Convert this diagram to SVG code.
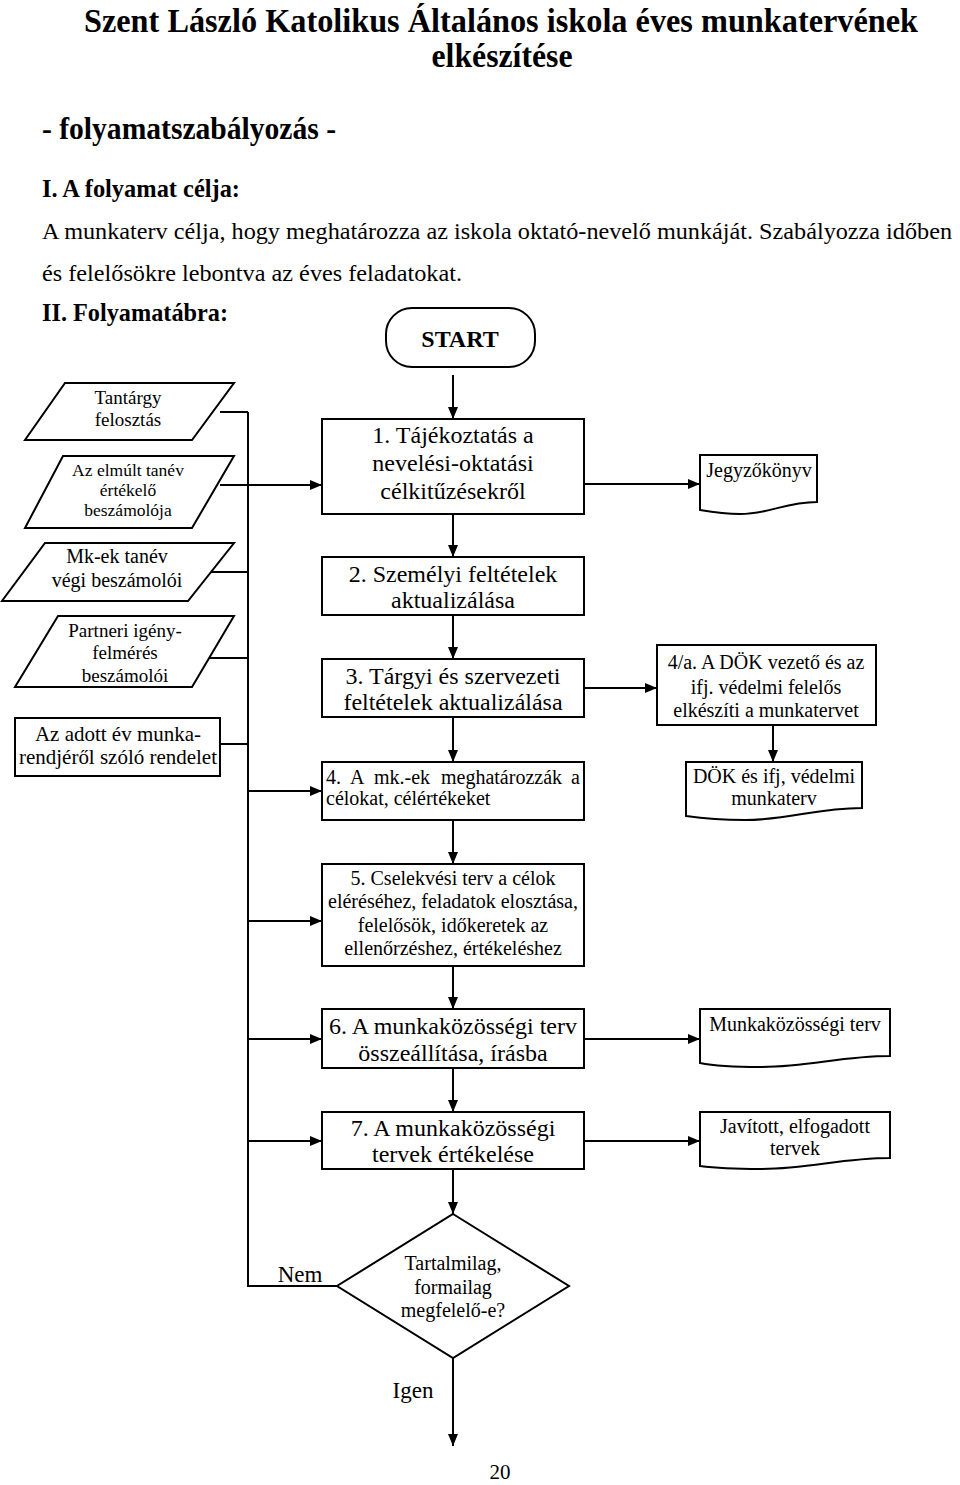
<svg xmlns="http://www.w3.org/2000/svg" width="960" height="1485" viewBox="0 0 960 1485">
<style>
text{font-family:"Times New Roman","Liberation Serif",serif;fill:#000}
.b{font-weight:bold}
.c{text-anchor:middle}
.shape{fill:#fff;stroke:#000;stroke-width:2}
.conn{fill:none;stroke:#000;stroke-width:2}
.t24{font-size:24px}
.t20{font-size:20px}
</style>
<defs>
<marker id="ah" markerUnits="userSpaceOnUse" markerWidth="12" markerHeight="10" refX="12" refY="5" orient="auto">
<path d="M0,0 L12,5 L0,10 z" fill="#000"/>
</marker>
</defs>
<rect width="960" height="1485" fill="#fff"/>

<g id="header">
<text class="b c" x="501" y="32" font-size="34" textLength="834" lengthAdjust="spacingAndGlyphs">Szent László Katolikus Általános iskola éves munkatervének</text>
<text class="b c" x="502" y="67" font-size="34" textLength="141" lengthAdjust="spacingAndGlyphs">elkészítése</text>
<text class="b" x="42" y="139" font-size="31" textLength="294" lengthAdjust="spacingAndGlyphs">- folyamatszabályozás -</text>
<text class="b" x="42" y="197" font-size="25" textLength="198" lengthAdjust="spacingAndGlyphs">I. A folyamat célja:</text>
<text x="42" y="239" font-size="23" textLength="910" lengthAdjust="spacingAndGlyphs">A munkaterv célja, hogy meghatározza az iskola oktató-nevelő munkáját. Szabályozza időben</text>
<text x="42" y="281" font-size="24" textLength="420" lengthAdjust="spacingAndGlyphs">és felelősökre lebontva az éves feladatokat.</text>
<text class="b" x="42" y="321" font-size="25" textLength="186" lengthAdjust="spacingAndGlyphs">II. Folyamatábra:</text>
</g>

<g id="connectors">
<path class="conn" d="M453,375 V419" marker-end="url(#ah)"/>
<path class="conn" d="M453,514 V557" marker-end="url(#ah)"/>
<path class="conn" d="M453,615 V659" marker-end="url(#ah)"/>
<path class="conn" d="M453,717 V762" marker-end="url(#ah)"/>
<path class="conn" d="M453,820 V864" marker-end="url(#ah)"/>
<path class="conn" d="M453,966 V1009" marker-end="url(#ah)"/>
<path class="conn" d="M453,1068 V1112" marker-end="url(#ah)"/>
<path class="conn" d="M453,1169 V1214" marker-end="url(#ah)"/>
<path class="conn" d="M453,1358 V1446" marker-end="url(#ah)"/>
<path class="conn" d="M584,484 H700" marker-end="url(#ah)"/>
<path class="conn" d="M584,688 H657" marker-end="url(#ah)"/>
<path class="conn" d="M773,725 V762" marker-end="url(#ah)"/>
<path class="conn" d="M584,1039 H700" marker-end="url(#ah)"/>
<path class="conn" d="M584,1141 H700" marker-end="url(#ah)"/>
<path class="conn" d="M220,412 H248"/>
<path class="conn" d="M205,572 H248"/>
<path class="conn" d="M205,658 H248"/>
<path class="conn" d="M220,744 H248"/>
<path class="conn" d="M220,485 H322" marker-end="url(#ah)"/>
<path class="conn" d="M248,412 V1286 H337"/>
<path class="conn" d="M248,791 H322" marker-end="url(#ah)"/>
<path class="conn" d="M248,921 H322" marker-end="url(#ah)"/>
<path class="conn" d="M248,1039 H322" marker-end="url(#ah)"/>
<path class="conn" d="M248,1141 H322" marker-end="url(#ah)"/>
<text x="300" y="1282" font-size="23" class="c">Nem</text>
<text x="413" y="1398" font-size="23" class="c">Igen</text>
</g>

<g id="start">
<rect class="shape" x="386" y="308" width="149" height="59" rx="26" ry="26"/>
<text class="b c" x="460" y="347" font-size="24">START</text>
</g>

<g id="in-tantargy">
<path class="shape" d="M65,383 H234 L192,440 H25 Z"/>
<text class="c" x="128" y="404" font-size="19">Tantárgy</text>
<text class="c" x="128" y="426" font-size="19">felosztás</text>
</g>
<g id="in-elmult">
<path class="shape" d="M63,456 H234 L192,528 H25 Z"/>
<text class="c" x="128" y="476" font-size="17.5">Az elmúlt tanév</text>
<text class="c" x="128" y="496" font-size="17.5">értékelő</text>
<text class="c" x="128" y="516" font-size="17.5">beszámolója</text>
</g>
<g id="in-mkek">
<path class="shape" d="M45,543 H234 L188,601 H2 Z"/>
<text class="c" x="117" y="563" font-size="20">Mk-ek tanév</text>
<text class="c" x="117" y="587" font-size="20">végi beszámolói</text>
</g>
<g id="in-partneri">
<path class="shape" d="M58,616 H234 L192,687 H15 Z"/>
<text class="c" x="125" y="637" font-size="19">Partneri igény-</text>
<text class="c" x="125" y="659" font-size="19">felmérés</text>
<text class="c" x="125" y="682" font-size="19">beszámolói</text>
</g>
<g id="in-rendelet">
<rect class="shape" x="15" y="718" width="205" height="58"/>
<text class="c" x="118" y="741" font-size="21">Az adott év munka-</text>
<text class="c" x="118" y="764" font-size="21" textLength="198" lengthAdjust="spacingAndGlyphs">rendjéről szóló rendelet</text>
</g>

<g id="step1">
<rect class="shape" x="322" y="419" width="262" height="95"/>
<text class="c t24" x="453" y="443">1. Tájékoztatás a</text>
<text class="c t24" x="453" y="471">nevelési-oktatási</text>
<text class="c t24" x="453" y="499">célkitűzésekről</text>
</g>
<g id="step2">
<rect class="shape" x="322" y="557" width="262" height="58"/>
<text class="c t24" x="453" y="582">2. Személyi feltételek</text>
<text class="c t24" x="453" y="608">aktualizálása</text>
</g>
<g id="step3">
<rect class="shape" x="322" y="659" width="262" height="58"/>
<text class="c t24" x="453" y="684">3. Tárgyi és szervezeti</text>
<text class="c t24" x="453" y="710">feltételek aktualizálása</text>
</g>
<g id="step4">
<rect class="shape" x="322" y="762" width="262" height="58"/>
<text class="t20" y="784"><tspan x="326">4.</tspan><tspan x="350">A</tspan><tspan x="374">mk.-ek</tspan><tspan x="441">meghatározzák</tspan><tspan x="571">a</tspan></text>
<text class="t20" x="326" y="805">célokat, célértékeket</text>
</g>
<g id="step5">
<rect class="shape" x="322" y="864" width="262" height="102"/>
<text class="c t20" x="453" y="885">5. Cselekvési terv a célok</text>
<text class="c t20" x="453" y="908">eléréséhez, feladatok elosztása,</text>
<text class="c t20" x="453" y="932">felelősök, időkeretek az</text>
<text class="c t20" x="453" y="955">ellenőrzéshez, értékeléshez</text>
</g>
<g id="step6">
<rect class="shape" x="322" y="1009" width="262" height="59"/>
<text class="c t24" x="453" y="1034">6. A munkaközösségi terv</text>
<text class="c t24" x="453" y="1061">összeállítása, írásba</text>
</g>
<g id="step7">
<rect class="shape" x="322" y="1112" width="262" height="57"/>
<text class="c t24" x="453" y="1136">7. A munkaközösségi</text>
<text class="c t24" x="453" y="1162">tervek értékelése</text>
</g>
<g id="decision">
<path class="shape" d="M453,1214 L569,1286 L453,1358 L337,1286 Z"/>
<text class="c t20" x="453" y="1270">Tartalmilag,</text>
<text class="c t20" x="453" y="1294">formailag</text>
<text class="c t20" x="453" y="1317">megfelelő-e?</text>
</g>

<g id="doc-jegyzokonyv">
<path class="shape" d="M700,455 H817 V502 C785,502 770,514 740,514 C725,514 712,512 700,510 Z"/>
<text class="c t20" x="759" y="477">Jegyzőkönyv</text>
</g>
<g id="step4a">
<rect class="shape" x="657" y="645" width="219" height="80"/>
<text class="c t20" x="766" y="669">4/a. A DÖK vezető és az</text>
<text class="c t20" x="766" y="694">ifj. védelmi felelős</text>
<text class="c t20" x="766" y="717">elkészíti a munkatervet</text>
</g>
<g id="doc-dok">
<path class="shape" d="M686,762 H862 V808 C815,808 790,820 745,820 C720,820 700,818 686,816 Z"/>
<text class="c t20" x="774" y="783">DÖK és ifj, védelmi</text>
<text class="c t20" x="774" y="805">munkaterv</text>
</g>
<g id="doc-munkakozossegi">
<path class="shape" d="M700,1009 H890 V1056 C840,1056 810,1067 760,1067 C735,1067 715,1066 700,1063 Z"/>
<text class="c t20" x="795" y="1031">Munkaközösségi terv</text>
</g>
<g id="doc-javitott">
<path class="shape" d="M700,1112 H890 V1158 C840,1158 810,1169 760,1169 C735,1169 715,1168 700,1166 Z"/>
<text class="c t20" x="795" y="1133">Javított, elfogadott</text>
<text class="c t20" x="795" y="1155">tervek</text>
</g>

<g id="page-number">
<text class="c" x="500" y="1479" font-size="21">20</text>
</g>
</svg>
